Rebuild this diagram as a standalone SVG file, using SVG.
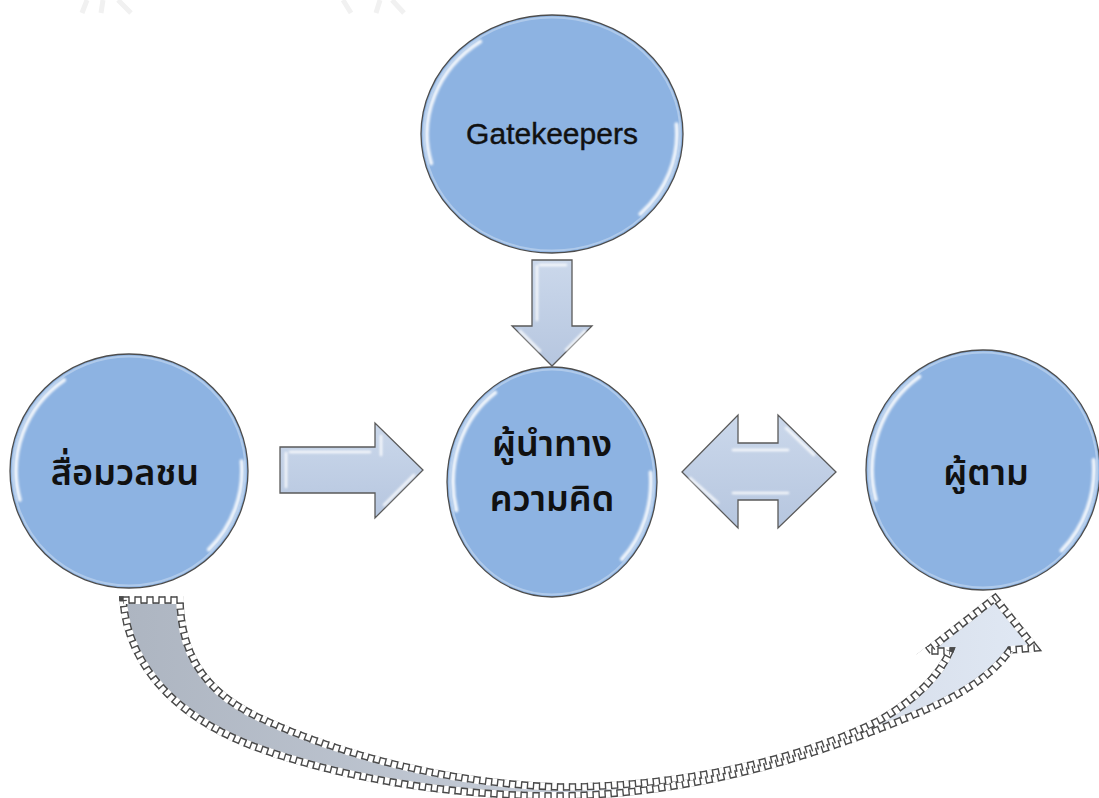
<svg xmlns="http://www.w3.org/2000/svg" xmlns:xlink="http://www.w3.org/1999/xlink" width="1099" height="798" viewBox="0 0 1099 798">
<style>
.circ{fill:#8db3e2;stroke:#4d4d4d;stroke-width:1.3}
.rim{fill:none;stroke:#ffffff;stroke-opacity:0.3;stroke-width:2}
.gloss{fill:none;stroke:#ffffff;stroke-width:4;stroke-linecap:round;stroke-opacity:0.85;filter:url(#soft)}
.lbl{font-family:"Liberation Sans",Arial,sans-serif;fill:#111;text-anchor:middle}
.th{font-family:"Noto Sans Thai","Leelawadee UI",Tahoma,"DejaVu Sans","Noto Sans",sans-serif;font-weight:600;fill:#111;text-anchor:middle}
.blk{fill:url(#arrowFill);stroke:#5a5a5a;stroke-width:1.3;stroke-linejoin:miter}
.hl{fill:none;stroke:#ffffff;stroke-width:2.5;stroke-linecap:round;stroke-opacity:0.85;filter:url(#soft)}
.wm{fill:none;stroke:#f1f1f1;stroke-width:5}
</style>
<defs>
<filter id="soft" x="-20%" y="-20%" width="140%" height="140%"><feGaussianBlur stdDeviation="0.8"/></filter>
<linearGradient id="arrowFill" x1="0" y1="0" x2="0" y2="1">
<stop offset="0" stop-color="#cbd8eb"/><stop offset="1" stop-color="#b6c6df"/>
</linearGradient>
<linearGradient id="curveFill" gradientUnits="userSpaceOnUse" x1="123" y1="0" x2="1034" y2="0">
<stop offset="0" stop-color="#adb5c1"/><stop offset="0.45" stop-color="#c4cbd6"/><stop offset="1" stop-color="#e0e8f4"/>
</linearGradient>
<path id="curve" d="M123,600 L180,600 C181,650 200,690 260,718 C340,755 450,784 560,787 C680,787 800,760 880,720 C915,700 940,675 950,651 L927,651 L995,598 L1035,648 L1010,650 C995,672 970,690 930,708 C830,752 700,794 560,796 C440,796 330,775 250,745 C170,713 128,662 123,600 Z"/>
<clipPath id="inside"><use xlink:href="#curve"/></clipPath>
<mask id="outside" maskUnits="userSpaceOnUse" x="0" y="0" width="1099" height="798">
<rect x="0" y="0" width="1099" height="798" fill="#fff"/>
<use xlink:href="#curve" fill="#000"/>
</mask>
</defs>
<rect width="1099" height="798" fill="#ffffff"/>
<g id="watermark">
<path class="wm" d="M87,0 L82,13 M103,0 L101,13 M118,0 L131,13 M343,0 L351,13 M380,0 L376,13 M392,0 L404,13"/>
</g>
<g id="connectors">
<g id="arrow-gate-leader">
<polygon class="blk" points="532,260 572,260 572,326 592,326 552,366 512,326 532,326"/>
<path class="hl" d="M537,266 L537,320 M540,265 L566,265 M520,331 L540,351 M585,331 L566,350"/>
</g>
<g id="arrow-media-leader">
<polygon class="blk" points="280,447 375,447 375,423 423,470 375,518 375,493 280,493"/>
<path class="hl" d="M286,453 L286,487 M381,436 L381,455 M384,505 L414,475 M290,452 L370,452"/>
</g>
<g id="arrow-leader-follower">
<polygon class="blk" points="682,472 738,415 738,443 778,443 778,415 836,472 778,528 778,500 738,500 738,528"/>
<path class="hl" d="M733,450 L788,450 M733,493 L788,493 M690,478 L718,503 M786,428 L814,455"/>
</g>
<g id="arrow-media-follower">
<use xlink:href="#curve" fill="url(#curveFill)"/>
<use xlink:href="#curve" fill="none" stroke="#4a4a4a" stroke-width="7.4"/>
<use xlink:href="#curve" fill="none" stroke="#ffffff" stroke-width="4.6"/>
<g clip-path="url(#inside)"><use xlink:href="#curve" fill="none" stroke="#ffffff" stroke-width="7.8" stroke-dasharray="6 6"/></g>
<g mask="url(#outside)"><use xlink:href="#curve" fill="none" stroke="#ffffff" stroke-width="7.8" stroke-dasharray="6 6" stroke-dashoffset="6"/></g>
<use xlink:href="#curve" fill="none" stroke="#4a4a4a" stroke-width="7.4" stroke-dasharray="1.4 4.6" stroke-dashoffset="0.7"/>
</g>
</g>
<g id="node-gatekeepers">
<ellipse class="circ" cx="552" cy="134" rx="131" ry="119"/>
<ellipse class="rim" cx="552" cy="134" rx="128.5" ry="116.5"/>
<path class="gloss" d="M431.2,163.3 A125,113 0 0 1 480.2,41.5 M676.5,124.2 A125,113 0 0 1 640.4,213.9"/>
<text class="lbl" x="552" y="144" font-size="30" stroke="#111" stroke-width="0.4">Gatekeepers</text>
</g>
<g id="node-media">
<ellipse class="circ" cx="129" cy="471" rx="119" ry="117"/>
<ellipse class="rim" cx="129" cy="471" rx="116.5" ry="114.5"/>
<path class="gloss" d="M19.8,499.7 A113,111 0 0 1 64.1,380.1 M241.6,461.3 A113,111 0 0 1 208.9,549.5"/>
<text class="th" x="125" y="485" font-size="36">สื่อมวลชน</text>
</g>
<g id="node-leader">
<ellipse class="circ" cx="552" cy="482" rx="105" ry="115"/>
<ellipse class="rim" cx="552" cy="482" rx="102.5" ry="112.5"/>
<path class="gloss" d="M456.4,510.2 A99,109 0 0 1 495.2,392.7 M650.6,472.5 A99,109 0 0 1 622,559.1"/>
<text class="th" x="552" y="456" font-size="36">ผู้นำทาง</text>
<text class="th" x="552" y="511" font-size="36">ความคิด</text>
</g>
<g id="node-follower">
<ellipse class="circ" cx="983" cy="470" rx="117" ry="120"/>
<ellipse class="rim" cx="983" cy="470" rx="114.5" ry="117.5"/>
<path class="gloss" d="M875.8,499.5 A111,114 0 0 1 919.3,376.6 M1093.6,460.1 A111,114 0 0 1 1061.5,550.6"/>
<text class="th" x="986" y="485" font-size="36">ผู้ตาม</text>
</g>
</svg>
